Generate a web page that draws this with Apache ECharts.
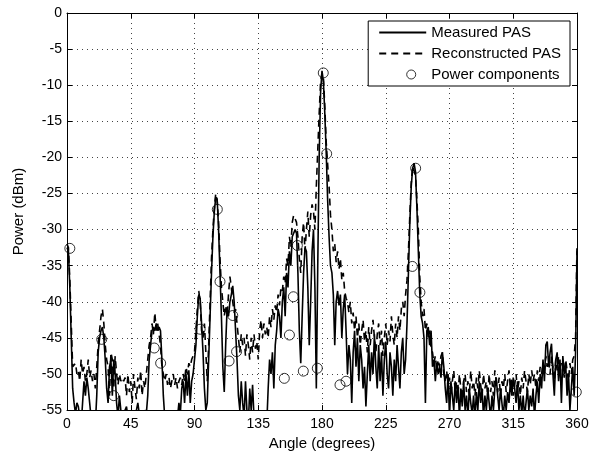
<!DOCTYPE html>
<html>
<head>
<meta charset="utf-8">
<script src="https://cdn.jsdelivr.net/npm/echarts@6/dist/echarts.min.js"></script>
<style>html,body{margin:0;padding:0;background:#fff}#c{width:602px;height:456px}</style>
</head>
<body>
<div id="c"></div>
<script>
// Angles 0..360 in 1-degree steps
const angleStart = 0, angleStep = 1;
const measuredPAS = [
-32.5,-33,-38,-45,-52,-54,-55.5,-54,-54.5,-56,-57,-54,-51,-53,-50.5,-52,-54,-56,-57,-55,
-57,-53,-47,-45,-44,-43.5,-45,-48,-52,-54,-49,-48,-53,-48,-50,-54,-56,-53,-55,-57,
-56,-55,-54.5,-56,-58,-57,-55.5,-56,-58,-55,-54,-55.5,-57,-58,-56,-55,-55.5,-53,-48,-46,
-44,-43.5,-44,-43,-44,-43.5,-44,-48,-53,-56,-57,-58,-56,-57,-58,-56,-57,-55,-56,-54,
-55.5,-52,-51,-54,-50,-53,-49.5,-54,-51,-50,-48,-46,-42,-39,-39.5,-43,-47,-52,-55,-54,
-48,-42,-36,-31,-27.5,-25.5,-25.8,-30,-36,-42,-49,-52.5,-46,-41,-42,-40,-39,-37.8,-40,-44,
-48,-53,-55,-51,-54,-56,-51,-55,-57,-52,-55,-51.5,-56,-58,-55,-57,-58,-56,-57,-58,
-56,-57,-52,-48,-50,-47,-52,-46,-44,-41,-42,-45,-40,-38,-42,-36,-38,-33,-35,-31,
-30.5,-30,-30.5,-36,-44,-48.5,-42,-36,-32.5,-33,-38,-46,-40,-33,-30,-38,-52,-35,-20,-11,
-8,-9.5,-14,-19.5,-26,-31,-35,-36,-39,-46,-40,-38.5,-40.5,-39,-45,-41,-39,-44,-50,-46,
-48,-54,-47,-44,-49,-45,-51,-46,-48,-52,-49,-54.5,-50,-46,-51,-47,-50,-44.5,-49,-52,
-46,-51,-47,-53,-48,-45.5,-50,-52,-47,-49,-53,-48,-51,-46,-49,-52,-47,-45,-50,-48,
-43,-36,-29,-24,-21.5,-20.8,-22,-27,-33,-38.8,-42,-43,-45,-54,-44,-43.5,-46,-44,-49,-48,
-51,-48.5,-50,-49,-50.5,-47,-49,-52,-54,-50,-56,-51,-53,-55,-51,-54,-51.5,-56,-52,-54.5,
-51,-55,-53,-56,-52,-54,-55.5,-53,-56,-52.5,-55,-51,-54,-52,-56,-53,-55,-52,-54,-56,
-53,-55,-52,-50.5,-53,-55,-52,-54,-56,-53,-55,-52.5,-54,-51,-53,-50.5,-52,-54,-51,-55,
-53,-55.5,-53,-56,-54,-52,-55,-53,-54.5,-52,-56,-53,-51,-54,-50,-52,-48,-51,-46,-45.5,
-49,-47,-45.8,-50,-53,-48,-47,-51,-48,-54,-47.5,-50,-48.5,-53,-50,-55,-52,-49,-53,-47,
-33
];
const reconstructedPAS = [
-32,-32.5,-37,-43,-49,-49,-48.5,-50,-49.5,-51,-48,-50,-49,-51,-50,-48,-50.5,-49.5,-51,-50,
-52,-49,-46,-44,-42,-41,-43,-46,-48,-49,-53,-47,-48,-52,-47.5,-50,-51.5,-50,-51,-50.5,
-51,-50.5,-53,-50,-52.5,-51,-54,-50,-52,-53.5,-50.5,-52,-49.5,-53,-51,-52,-50,-48,-46,-45,
-43,-44.5,-41.5,-44,-43,-44.5,-46,-49,-50,-51,-50,-51.5,-50.5,-52,-51,-50,-51.5,-50.5,-52,-51,
-50.5,-51.5,-50,-51,-49,-50,-48.5,-49,-48,-48,-47,-44,-41,-38.5,-40,-44,-45,-43,-47,-51,
-46,-40,-34,-30,-27,-25,-26,-29,-34,-38,-40,-42,-40.5,-42,-39,-36.5,-38,-40,-41.5,-41,
-43,-45,-47,-44.5,-46,-45,-47.5,-44.5,-46,-48,-45,-47,-44.5,-46.5,-45.5,-48,-44,-42.5,-45,-43,
-44.5,-43.5,-45,-42,-43.5,-41,-42.5,-40.5,-41.5,-39,-40.5,-38,-38.5,-36.5,-37.5,-34,-35,-31,-32.5,-29,
-28,-27.8,-29,-31,-34,-36,-31,-29,-33,-30,-27.5,-31,-28,-26.5,-27.5,-30,-24,-19,-14,-9.5,
-8.3,-9,-13,-18,-21,-24,-28,-30,-33,-32,-34.5,-33,-35.5,-34,-37,-36,-38.5,-39.5,-40,-41.5,
-40,-43,-41.5,-44,-42,-45,-43,-46,-44,-42.5,-45.5,-44,-47,-43.5,-46,-44,-42.5,-45,-47,-44.5,
-43,-46,-44,-47.5,-45,-43,-46,-44,-45.5,-42,-44.5,-46,-43,-45,-42,-44,-41,-40,-42,-39,
-37,-33,-28,-23.5,-21.2,-21,-22.5,-26,-30,-36.5,-40,-42,-41,-44,-43,-45,-44,-46.5,-47,-48.5,
-47.5,-49.5,-48,-49,-47.5,-47,-50,-51,-49.5,-52,-50.5,-53,-51,-49.5,-52.5,-51,-53,-50,-52,-53.5,
-51,-50,-52.5,-51,-53,-49.5,-52,-51,-53,-50.5,-52,-49.5,-51.5,-53,-50,-52,-51,-53,-50,-52.5,
-51,-53,-49.5,-51,-52.5,-50.5,-53,-51,-52,-50,-52.5,-51,-49.5,-52,-50.5,-53,-51.5,-50,-52.5,-51,
-53,-50.5,-52,-49.5,-51,-52.5,-50,-51.5,-49.5,-51,-50,-52,-49.5,-51,-49,-50,-48.5,-50,-47.5,-49,
-48,-50,-47.5,-49,-51,-48,-49.5,-47.5,-50,-48.5,-49,-50.5,-48,-49.5,-51,-48.5,-50,-48,-47.5,-45,
-32
];
const componentAngles = [2, 24.5, 33, 61.6, 66.1, 94, 106.1, 108, 114.4, 117, 119.7, 153.4, 157, 159.8, 162.6, 166.8, 176.7, 180.9, 183.3, 192.7, 197, 243.8, 246.1, 249.1, 340.3, 359.5];
const componentPowers = [-32.6, -45.2, -53, -46.4, -48.5, -43.8, -27.2, -37.2, -48.2, -41.9, -46.9, -50.6, -44.6, -39.3, -32.2, -49.6, -49.2, -8.3, -19.5, -51.5, -51, -35.1, -21.5, -38.7, -49.4, -52.5];
const xTicks = {min: 0, max: 360, step: 45};
const yTicks = {min: -55, max: 0, step: 5};
const seriesNames = ['Measured PAS', 'Reconstructed PAS', 'Power components'];

const measuredData = measuredPAS.map((v, i) => [angleStart + i * angleStep, v]);
const reconData = reconstructedPAS.map((v, i) => [angleStart + i * angleStep, v]);
const compData = componentAngles.map((a, i) => [a, componentPowers[i]]);

const FONT = 'Liberation Sans, Arial, Helvetica, sans-serif';
const gridLine = {show: true, lineStyle: {color: '#444', type: [1, 4], width: 1}};
const axisLine = {show: true, onZero: false, lineStyle: {color: '#000', width: 1}};
const tick = {show: true, inside: true, length: 5, lineStyle: {color: '#000'}};
// legend circle icon: invisible corners fix the box, circle sits right of centre
const circleIcon = 'path://M0,0M47,14M36.5,7A4.5,4.5,0,1,1,27.5,7A4.5,4.5,0,1,1,36.5,7Z';

const chart = echarts.init(document.getElementById('c'), null, {renderer: 'canvas'});
chart.setOption({
  animation: false,
  backgroundColor: '#fff',
  grid: {left: 67, right: 25, top: 13, bottom: 41, containLabel: false},
  legend: {
    orient: 'vertical', right: 32, top: 21,
    padding: [4, 9, 4, 10], itemGap: 6, itemWidth: 47, itemHeight: 14,
    backgroundColor: '#fff', borderColor: '#000', borderWidth: 1, borderRadius: 0,
    textStyle: {fontFamily: FONT, fontSize: 15, color: '#000'},
    data: [
      {name: seriesNames[0], itemStyle: {opacity: 0}},
      {name: seriesNames[1], itemStyle: {opacity: 0}},
      {name: seriesNames[2], icon: circleIcon, itemStyle: {color: 'rgba(255,255,255,0)', borderColor: '#000', borderWidth: 1}}
    ]
  },
  xAxis: [{
    type: 'value', min: xTicks.min, max: xTicks.max, interval: xTicks.step,
    name: 'Angle (degrees)', nameLocation: 'middle', nameGap: 25,
    nameTextStyle: {fontFamily: FONT, fontSize: 15, color: '#000'},
    axisLine: axisLine, axisTick: tick,
    axisLabel: {fontFamily: FONT, fontSize: 14, color: '#000', margin: 7},
    splitLine: gridLine
  }, {
    type: 'value', position: 'top', min: xTicks.min, max: xTicks.max, interval: xTicks.step,
    axisLine: axisLine, axisTick: tick, axisLabel: {show: false}, splitLine: {show: false}
  }],
  yAxis: [{
    type: 'value', min: yTicks.min, max: yTicks.max, interval: yTicks.step,
    name: 'Power (dBm)', nameLocation: 'middle', nameGap: 41,
    nameTextStyle: {fontFamily: FONT, fontSize: 15, color: '#000'},
    axisLine: axisLine, axisTick: tick,
    axisLabel: {fontFamily: FONT, fontSize: 14, color: '#000', margin: 5},
    splitLine: gridLine
  }, {
    type: 'value', position: 'right', min: yTicks.min, max: yTicks.max, interval: yTicks.step,
    axisLine: axisLine, axisTick: tick, axisLabel: {show: false}, splitLine: {show: false}
  }],
  series: [{
    name: seriesNames[0], type: 'line', data: measuredData, symbol: 'none', clip: true,
    lineStyle: {color: '#000', width: 1.6, type: 'solid'}, itemStyle: {color: '#000'}
  }, {
    name: seriesNames[1], type: 'line', data: reconData, symbol: 'none', clip: true,
    lineStyle: {color: '#000', width: 1.6, type: [7, 5]}, itemStyle: {color: '#000'}
  }, {
    name: seriesNames[2], type: 'scatter', data: compData, symbol: 'circle', symbolSize: 10,
    itemStyle: {color: 'rgba(255,255,255,0)', borderColor: '#000', borderWidth: 1}
  }]
});
</script>
</body>
</html>
